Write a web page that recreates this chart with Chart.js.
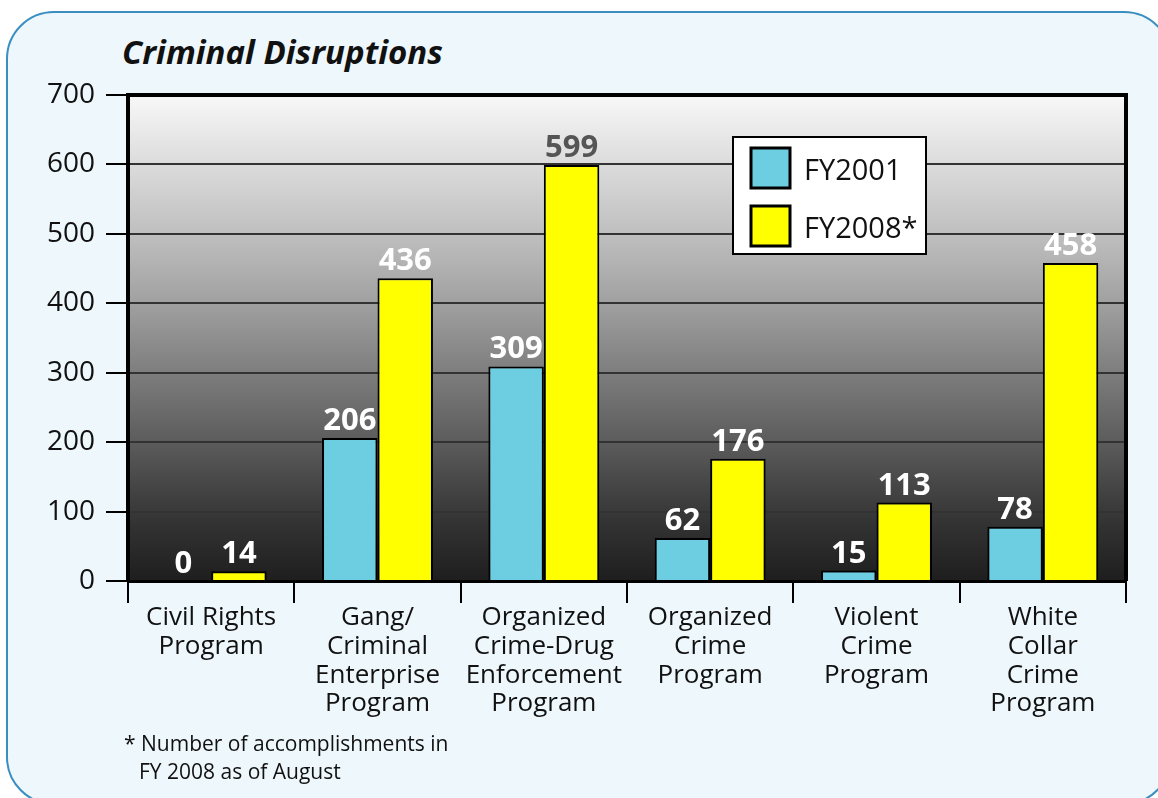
<!DOCTYPE html>
<html>
<head>
<meta charset="utf-8">
<script src="https://cdn.jsdelivr.net/npm/chart.js@4.4.1/dist/chart.umd.min.js"></script>
<style>
  html, body { margin: 0; padding: 0; background: #ffffff; overflow: hidden; }
  #wrap { position: relative; width: 1158px; height: 798px; overflow: hidden; }
  #frame {
    position: absolute; left: 6px; top: 11px; width: 1166px; height: 794px;
    border: 2px solid #3b8fc0; border-radius: 48px; background: #eef7fb;
    box-sizing: border-box;
  }
  #title {
    position: absolute; left: 122px; top: 35px; margin: 0;
    font: italic bold 33px "Open Sans", sans-serif; line-height: 1; color: #111;
  }
  #note {
    position: absolute; left: 124px; top: 729px;
    font: 21px "Open Sans", sans-serif; line-height: 28px; color: #111;
  }
  #note span { display: block; }
  #note span + span { margin-left: 15px; }
  canvas { position: absolute; left: 0; top: 0; }
</style>
</head>
<body>
<div id="wrap">
  <div id="frame"></div>
  <h1 id="title">Criminal Disruptions</h1>
  <canvas id="chart" width="1158" height="798"></canvas>
  <div id="note"><span>* Number of accomplishments in</span><span>FY 2008 as of August</span></div>
</div>
<script>
const categories = [
  ["Civil Rights", "Program"],
  ["Gang/", "Criminal", "Enterprise", "Program"],
  ["Organized", "Crime-Drug", "Enforcement", "Program"],
  ["Organized", "Crime", "Program"],
  ["Violent", "Crime", "Program"],
  ["White", "Collar", "Crime", "Program"],
];
const fy2001 = [0, 206, 309, 62, 15, 78];
const fy2008 = [14, 436, 599, 176, 113, 458];
const seriesNames = ["FY2001", "FY2008*"];

const FONT = '"Open Sans", sans-serif';

// gray-to-black plot background, under the grid lines
const plotBackground = {
  id: "plotBackground",
  beforeDraw(chart) {
    const { ctx, chartArea: a } = chart;
    const g = ctx.createLinearGradient(0, a.top, 0, a.bottom);
    g.addColorStop(0, "#f8f8f8");
    g.addColorStop(0.3, "#bcbcbc");
    g.addColorStop(0.43, "#a0a0a0");
    g.addColorStop(0.57, "#7e7e7e");
    g.addColorStop(0.72, "#5a5a5a");
    g.addColorStop(0.88, "#333333");
    g.addColorStop(1, "#1e1e1e");
    ctx.save();
    ctx.fillStyle = g;
    ctx.fillRect(a.left, a.top, a.right - a.left, a.bottom - a.top);
    ctx.restore();
  },
  afterDatasetsDraw(chart) {
    const { ctx, chartArea: a } = chart;
    ctx.save();
    ctx.strokeStyle = "#000";
    ctx.lineWidth = 4;
    ctx.beginPath();
    ctx.moveTo(a.left, a.top);
    ctx.lineTo(a.right, a.top);
    ctx.lineTo(a.right, a.bottom);
    ctx.stroke();
    ctx.restore();
  },
};

const valueLabels = {
  id: "valueLabels",
  afterDatasetsDraw(chart) {
    const { ctx } = chart;
    ctx.save();
    ctx.font = "bold 31px " + FONT;
    ctx.textAlign = "center";
    ctx.textBaseline = "alphabetic";
    chart.data.datasets.forEach((ds, i) => {
      chart.getDatasetMeta(i).data.forEach((bar, j) => {
        const y = bar.y - 8;
        ctx.fillStyle = y < 200 ? "#555555" : "#ffffff";
        ctx.fillText(String(ds.data[j]), bar.x, y);
      });
    });
    ctx.restore();
  },
};

const boxLegend = {
  id: "boxLegend",
  afterDraw(chart) {
    const { ctx, chartArea: a } = chart;
    const x = a.left + 605, y = a.top + 42, w = 193, h = 117;
    ctx.save();
    ctx.fillStyle = "#fff";
    ctx.fillRect(x, y, w, h);
    ctx.strokeStyle = "#000";
    ctx.lineWidth = 2;
    ctx.strokeRect(x, y, w, h);
    ctx.font = "29px " + FONT;
    ctx.textBaseline = "alphabetic";
    chart.data.datasets.forEach((ds, i) => {
      const sy = y + 11 + i * 58;
      ctx.fillStyle = ds.backgroundColor;
      ctx.fillRect(x + 18, sy, 39, 40);
      ctx.lineWidth = 3;
      ctx.strokeRect(x + 18, sy, 39, 40);
      ctx.fillStyle = "#111";
      ctx.fillText(ds.label, x + 71, sy + 32);
    });
    ctx.restore();
  },
};

new Chart(document.getElementById("chart"), {
  type: "bar",
  data: {
    labels: categories,
    datasets: [
      {
        label: seriesNames[0],
        data: fy2001,
        backgroundColor: "#6dcde1",
        borderColor: "#000",
        borderWidth: 2,
        borderSkipped: "bottom",
      },
      {
        label: seriesNames[1],
        data: fy2008,
        backgroundColor: "#ffff00",
        borderColor: "#000",
        borderWidth: 2,
        borderSkipped: "bottom",
      },
    ],
  },
  options: {
    responsive: false,
    animation: false,
    events: [],
    layout: { padding: { left: 28, top: 95, right: 32, bottom: 0 } },
    categoryPercentage: 0.667,
    barPercentage: 1.0,
    plugins: {
      legend: { display: false },
      title: { display: false },
      tooltip: { enabled: false },
    },
    scales: {
      x: {
        afterFit(scale) { scale.height = 217; },
        grid: {
          offset: true,
          drawOnChartArea: false,
          drawTicks: true,
          tickLength: 22,
          tickColor: "#000",
          lineWidth: 2,
        },
        border: { color: "#000", width: 3 },
        ticks: {
          color: "#111",
          padding: 0,
          maxRotation: 0,
          autoSkip: false,
          font: { family: FONT, size: 26, lineHeight: 1.11 },
        },
      },
      y: {
        min: 0,
        max: 700,
        afterFit(scale) { scale.width = 100; },
        grid: {
          color: "#333",
          lineWidth: 2,
          drawTicks: true,
          tickLength: 22,
          tickColor: "#000",
        },
        border: { color: "#000", width: 4 },
        ticks: {
          stepSize: 100,
          color: "#111",
          padding: 11,
          font: { family: FONT, size: 28 },
        },
      },
    },
  },
  plugins: [plotBackground, valueLabels, boxLegend],
});
</script>
</body>
</html>
